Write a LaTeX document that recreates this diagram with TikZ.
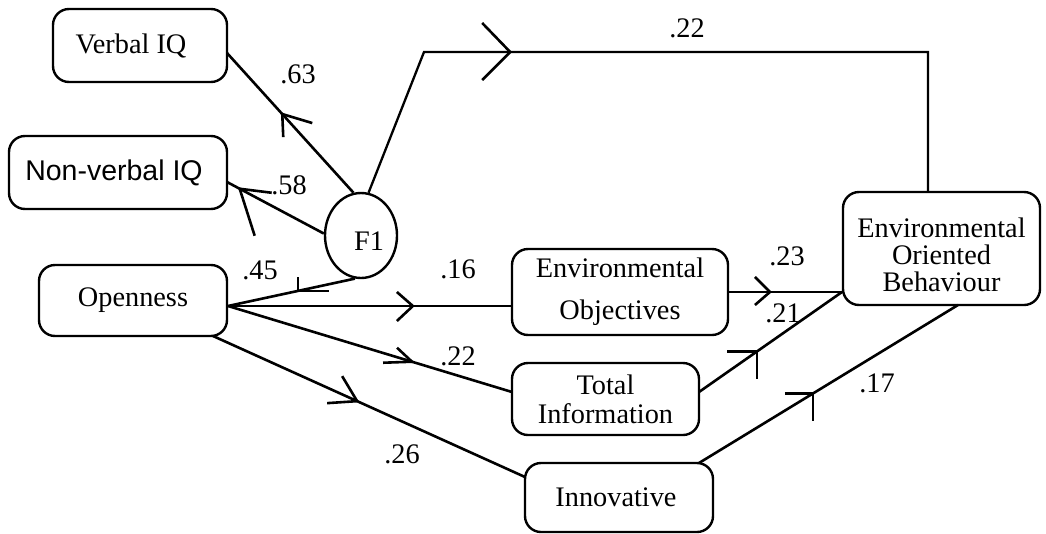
\documentclass[tikz,border=0pt]{standalone}
\usepackage{fontspec}
\setmainfont{Liberation Serif}
\newfontfamily\arialish{Liberation Sans}
\usetikzlibrary{shapes.geometric}
\begin{document}
\begin{tikzpicture}[x=1pt,y=-1pt,
  every node/.style={font=\fontsize{28.3}{28}\selectfont},
  box/.style={draw, line width=2.4pt, rounded corners=16pt, inner sep=0pt},
  latent/.style={draw, ellipse, line width=2.4pt, inner sep=0pt},
  wire/.style={line width=2.6pt},
  thinwire/.style={line width=2.3pt},
  barb/.style={line width=2.6pt},
  coef/.style={inner sep=0pt},
]
\useasboundingbox (0,0) rectangle (1046,533);

% ---------- variables ----------
\node[box, minimum width=174pt, minimum height=73pt,
      label={[xshift=-9pt]center:Verbal IQ}] (viq) at (140,45.5) {};
\node[box, minimum width=218pt, minimum height=73pt,
      label={[xshift=-4pt, font=\arialish\fontsize{28.5}{28}\selectfont]center:Non-verbal IQ}] (nviq) at (118,172.5) {};
\node[latent, minimum width=72pt, minimum height=85pt,
      label={[xshift=8pt, yshift=-5.5pt]center:F1}] (f1) at (361,235.5) {};
\node[box, minimum width=188pt, minimum height=71pt] (opn) at (133,300.5) {Openness};
\node[box, minimum width=216pt, minimum height=86pt, align=center,
      font=\fontsize{28.3}{42}\selectfont] (eo) at (620,292) {Environmental\\Objectives};
\node[box, minimum width=187pt, minimum height=72pt, align=center,
      font=\fontsize{28.3}{29}\selectfont] (ti) at (605.5,399) {Total\\Information};
\node[box, minimum width=188pt, minimum height=69pt,
      label={[xshift=-3pt]center:Innovative}] (inn) at (619,497.5) {};
\node[box, minimum width=197pt, minimum height=113pt,
      label={[yshift=-6.5pt, align=center, font=\fontsize{28.3}{27}\selectfont]center:Environmental\\Oriented\\Behaviour}] (eob) at (941.5,248.5) {};

% ---------- attachment points ----------
\coordinate (viqR)  at (227,53);
\coordinate (nviqR) at (227,182);
\coordinate (opnR)  at (228,306);
\coordinate (opnBR) at (213,336);
\coordinate (eoL)   at (512,306);
\coordinate (eoR)   at (728,292);
\coordinate (tiL)   at (512,392);
\coordinate (tiR)   at (699,392);
\coordinate (innTL) at (525,477);
\coordinate (innTR) at (699,463);
\coordinate (eobBL) at (842,292);
\coordinate (eobB)  at (958,305);
\coordinate (eobT)  at (928,192);
\coordinate (bendA) at (424,52);
\coordinate (bendB) at (928,52);

% ---------- paths with mid-line arrow marks ----------
\draw[wire] (f1.100) -- coordinate[pos=0.563] (hA) (viqR);
\draw[barb] (hA) ++(30,9) -- (hA) -- ++(1,23);

\draw[wire] (f1.177) -- coordinate[pos=0.869] (hB) (nviqR);
\draw[barb] (hB) ++(32,4) -- (hB) -- ++(15,47);

\draw[wire] (f1.262) -- coordinate[pos=0.449] (hC) (opnR);
\draw[barb] (hC) ++(31,0) -- (hC) -- ++(0,-14);

\draw[thinwire] (f1.80) -- (bendA) -- coordinate[pos=0.171] (hD) (bendB) -- (eobT);
\draw[barb] (hD) ++(-28,-29) -- (hD) -- ++(-28,28);

\draw[wire] (opnR) -- coordinate[pos=0.651] (hE) (eoL);
\draw[barb] (hE) ++(-16,-14) -- (hE) -- ++(-16,15);

\draw[wire] (opnR) -- coordinate[pos=0.648] (hF) (tiL);
\draw[barb] (hF) ++(-29,1) -- (hF) -- ++(-15,-14);

\draw[wire] (opnBR) -- coordinate[pos=0.462] (hG) (innTL);
\draw[barb] (hG) ++(-30,2) -- (hG) -- ++(-15,-25);

\draw[wire] (eoR) -- coordinate[pos=0.368] (hH) (eobBL);
\draw[barb] (hH) ++(-15,-15) -- (hH) -- ++(-15,13);

\draw[wire] (tiR) -- coordinate[pos=0.406] (hI) (eobBL);
\draw[barb] (hI) ++(-30,0) -- (hI) -- ++(0,28);

\draw[wire] (innTR) -- coordinate[pos=0.440] (hJ) (eobB);
\draw[barb] (hJ) ++(-28,0) -- (hJ) -- ++(0,28);

% ---------- path coefficients ----------
\node[coef] (c63) at (298,74)  {.63};
\node[coef] (c58) at (289,185) {.58};
\node[coef] (c45) at (260,270) {.45};
\node[coef] (c16) at (458,269) {.16};
\node[coef] (c22a) at (458,356) {.22};
\node[coef] (c26) at (402,454) {.26};
\node[coef] (c22b) at (687,28) {.22};
\node[coef] (c23) at (787,256) {.23};
\node[coef] (c21) at (783,313) {.21};
\node[coef] (c17) at (877,383) {.17};
\end{tikzpicture}
\end{document}
